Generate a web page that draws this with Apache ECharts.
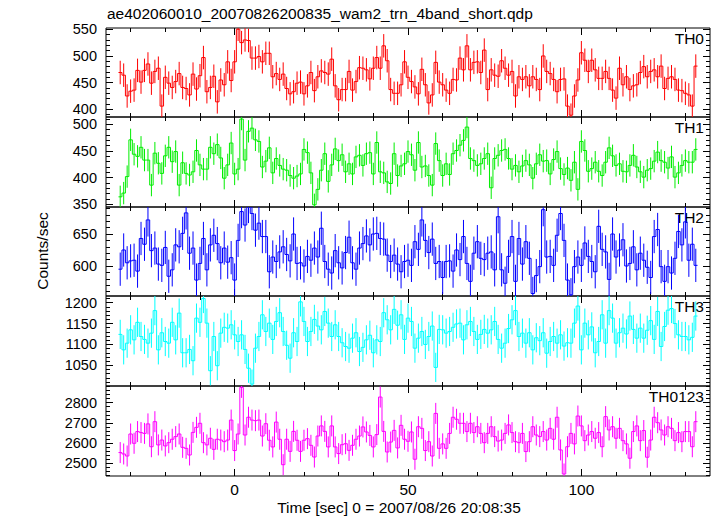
<!DOCTYPE html>
<html><head><meta charset="utf-8">
<script src="https://cdn.jsdelivr.net/npm/echarts@6/dist/echarts.min.js"></script>
<style>html,body{margin:0;padding:0;background:#fff}#c{width:717px;height:516px}</style>
</head><body><div id="c"></div>
<script>
// ---- data ----
const binStart = -33;   // centre of first 1-s bin (sec)
const binWidth = 1;

const th0 = [
469,464,425,434,436,473,451,473,485,449,
471,477,406,460,449,441,452,467,441,439,
427,466,438,463,497,433,441,462,414,455,
446,489,454,489,550,525,530,529,496,496,
499,489,505,505,461,467,456,466,439,429,
433,449,451,429,444,469,435,461,472,469,
466,494,444,418,437,437,471,436,452,
478,477,474,457,477,497,477,519,491,437,
430,430,446,489,460,452,442,429,475,446,
412,427,488,451,446,436,430,456,455,496,
474,519,474,488,489,469,511,437,474,464,
462,491,477,464,471,425,461,456,461,444,
461,456,437,500,471,467,456,433,456,457,
406,389,425,455,506,492,471,492,474,458,
458,471,458,436,421,477,446,461,437,444,
446,469,480,461,471,474,461,481,439,458,
461,456,436,435,430,427,406,481];

const th1 = [
364,371,402,471,444,440,457,433,433,386,
446,427,408,441,457,430,449,386,428,408,
405,411,451,424,416,416,457,445,462,437,
399,424,465,407,416,510,433,487,493,471,
468,
420,431,456,409,436,423,416,414,404,399,
403,407,453,447,409,349,378,414,445,393,
424,454,432,443,411,426,407,439,442,423,
445,447,407,466,411,409,392,389,445,404,
422,426,449,443,414,466,420,422,404,386,
464,432,404,426,406,445,451,461,470,495,
436,432,423,426,436,445,381,436,442,451,
453,436,416,423,411,422,432,424,399,426,
443,431,432,407,434,449,417,406,418,395,
429,378,468,451,412,417,429,412,404,429,
456,441,423,426,412,411,423,442,420,411,
401,414,417,431,448,432,429,418,439,401,
409,423,432,429,429,453];

const th2 = [
595,625,605,608,609,592,643,634,672,624,
628,603,601,629,584,594,633,630,651,683,
620,628,578,604,643,594,633,648,635,605,
628,606,613,578,640,685,664,693,682,656,
667,
646,646,591,614,607,622,630,618,
608,650,604,605,600,615,609,628,
614,659,607,595,589,624,605,597,
621,645,605,595,628,635,647,633,
650,651,643,642,617,607,617,603,
591,607,609,601,638,626,672,640,
621,642,604,607,582,607,608,592,
625,610,646,604,576,620,638,612,
610,620,622,594,677,594,573,615,
646,576,643,603,638,612,557,585,
599,688,614,615,601,648,682,640,
578,555,599,614,601,636,615,607,
591,662,626,622,579,650,614,625,
641,600,604,630,594,620,609,598,
582,646,657,599,576,599,589,612,
654,633,669,609,634,601];

const th3 = [
1124,1087,1103,1135,1111,1153,1119,1112,1103,1127,
1181,1087,1128,1107,1103,1153,1111,1175,1080,1080,
1088,1061,1163,1153,1210,1151,1037,1119,1049,1127,
1141,1139,1147,1123,1107,1123,1088,1043,1005,1091,
1119,
1171,1131,1151,1112,1155,1176,1131,1098,
1067,1128,1107,1202,1155,1107,1131,1160,
1144,1135,1179,1151,1119,1147,1119,1104,
1095,1091,1115,1128,1083,1093,1111,1122,
1080,1111,1107,1176,1159,1135,1184,1146,
1171,1112,1163,1155,1091,1115,1131,1100,
1119,1144,1045,1136,1135,1127,1131,1141,
1149,1151,1111,1147,1155,1131,1112,1124,
1136,1127,1135,1155,1112,1091,1103,1138,
1159,1181,1119,1127,1103,1128,1087,1116,
1109,1128,1079,1107,1119,1103,1123,1096,
1104,1103,1151,1192,1087,1151,1123,1142,
1080,1107,1171,1103,1181,1163,1103,1128,
1139,1125,1168,1136,1115,1139,1115,1134,
1157,1112,1179,1095,1143,1182,1186,1150,
1123,1119,1119,1111,1117,1168];

const th0123 = [
2553,2546,2536,2645,2599,2657,2652,2648,2695,2582,
2706,2591,2615,2586,2602,2619,2632,2645,2579,2574,
2541,2653,2678,2698,2602,2591,2624,2569,2619,2615,
2607,2615,2714,2563,2645,2876,2640,2728,2714,2711,
2714,
2635,2696,2614,2581,2704,2619,2493,2619,2559,2658,
2614,2559,2614,2622,2589,2531,2635,2685,2658,2581,
2685,2581,2548,2592,2597,2564,2589,2619,2635,2680,
2655,2638,2581,2642,2828,2658,2556,2605,2663,2576,
2688,2619,2609,2655,2520,
2681,2673,2563,2607,2536,2747,2574,2596,2574,2648,
2728,2718,2698,2698,2657,2698,2652,2681,2648,2602,
2648,2681,2632,2610,2615,2648,2690,2652,2607,2602,
2648,2558,2607,2681,2640,2632,2657,2615,2673,2619,
2728,2566,2447,2582,2648,2596,2734,2685,2612,2640,
2657,2624,2652,2582,2731,2665,2681,2624,2673,2612,
2596,2525,2657,2685,2612,2662,2530,2615,2728,2701,
2665,2640,2681,2673,2612,2652,2607,2657,2657,2582,
2706];

// 1-sigma errors (counts/sec), roughly constant per band
const errTH0 = 22, errTH1 = 21, errTH2 = 26, errTH3 = 35, errTH0123 = 52;

const panelNames = ['TH0','TH1','TH2','TH3','TH0123'];
const xMajorTicks = [0, 50, 100];
const yMajorTicks = [
  [400,450,500,550],
  [350,400,450,500],
  [600,650],
  [1050,1100,1150,1200],
  [2500,2600,2700,2800]
];
const yMinorStep = [10,10,10,10,20];
const xMinorStep = 10;

const titleText = 'ae402060010_20070826200835_wam2_trn_4band_short.qdp';
const xTitle = 'Time [sec] 0 = 2007/08/26 20:08:35';
const yTitle = 'Counts/sec';

// ---- layout / style ----
const FONT = "'Liberation Sans', Arial, Helvetica, sans-serif";
const FS = 15.5;
const FSY = 14.5;
const series = [th0, th1, th2, th3, th0123];
const errs = [errTH0, errTH1, errTH2, errTH3, errTH0123];
const colors = ['#ff0000','#00ee00','#0000ff','#00ffff','#ff00ff'];
const yRanges = [[385.6,552.4],[344.9,513.9],[553.1,692.2],[1000.4,1216],[2437,2882.7]];
const tops = [28,117,207,296,386];
const heights = [89,90,89,90,90];
const gridLeft = 106, gridWidth = 604;
const xMin = -37.1, xMax = 137.1;
const majorLen = 7, minorLen = 4;

function multiples(step, lo, hi){
  const out = [];
  for (let v = Math.ceil(lo/step)*step; v <= hi; v += step) out.push(v);
  return out;
}
const xMinorTicks = multiples(xMinorStep, xMin, xMax);
const plain = v => String(v);

const grids = [], xAxes = [], yAxes = [], seriesOpt = [], graphics = [];

function renderItem(params, api){
  const t = api.value(0), v = api.value(1), e = api.value(2), pv = api.value(3);
  const cs = params.coordSys;
  const top = cs.y, bot = cs.y + cs.height;
  const cl = y => Math.max(top, Math.min(bot, y));
  const color = api.visual('color');
  const L = api.coord([t - binWidth/2, v]);
  const R = api.coord([t + binWidth/2, v]);
  const C = api.coord([t, v]);
  const lo = api.coord([t, v - e]);
  const hi = api.coord([t, v + e]);
  const P = api.coord([t - binWidth/2, pv]);
  const st = () => ({stroke: color, lineWidth: 1, fill: null});
  const ch = [];
  if (L[1] >= top && L[1] <= bot)
    ch.push({type:'line', shape:{x1:L[0], y1:L[1], x2:R[0], y2:R[1]}, style: st()});
  const y1 = cl(lo[1]), y2 = cl(hi[1]);
  if (y1 !== y2) ch.push({type:'line', shape:{x1:C[0], y1:y1, x2:C[0], y2:y2}, style: st()});
  if (params.dataIndex > 0) {
    const a = cl(P[1]), b = cl(L[1]);
    if (a !== b) ch.push({type:'line', shape:{x1:L[0], y1:a, x2:L[0], y2:b}, style: st()});
  }
  return {type:'group', children: ch};
}

for (let i = 0; i < 5; i++) {
  grids.push({left: gridLeft, width: gridWidth, top: tops[i], height: heights[i],
    show: true, borderColor: '#000', borderWidth: 1, backgroundColor: 'transparent'});
  const yMin = yRanges[i][0], yMax = yRanges[i][1];
  const yMinor = multiples(yMinorStep[i], yMin, yMax);
  const isBottom = (i === 4);
  const xa = (pos, ticks, len, label) => ({
    type:'value', gridIndex:i, position:pos, min:xMin, max:xMax,
    axisLine:{show:false, onZero:false}, splitLine:{show:false},
    axisTick:{show:true, inside:true, length:len, customValues:ticks, lineStyle:{color:'#000', width:1}},
    axisLabel:{show:label, customValues:xMajorTicks, formatter: plain, color:'#000', fontSize:FS, fontFamily:FONT, margin:5}
  });
  xAxes.push(xa('bottom', xMajorTicks, majorLen, isBottom));
  xAxes.push(xa('bottom', xMinorTicks, minorLen, false));
  xAxes.push(xa('top', xMajorTicks, majorLen, false));
  xAxes.push(xa('top', xMinorTicks, minorLen, false));
  const ya = (pos, ticks, len, label) => ({
    type:'value', gridIndex:i, position:pos, min:yMin, max:yMax,
    axisLine:{show:false, onZero:false}, splitLine:{show:false},
    axisTick:{show:true, inside:true, length:len, customValues:ticks, lineStyle:{color:'#000', width:1}},
    axisLabel:{show:label, customValues:yMajorTicks[i], formatter: plain, color:'#000', fontSize:FSY,
      lineHeight: 12, fontFamily:FONT, margin:9}
  });
  yAxes.push(ya('left', yMajorTicks[i], majorLen, true));
  yAxes.push(ya('left', yMinor, minorLen, false));
  yAxes.push(ya('right', yMajorTicks[i], majorLen, false));
  yAxes.push(ya('right', yMinor, minorLen, false));

  const vals = series[i];
  const data = vals.map((v, k) => [binStart + k*binWidth, v, errs[i], k > 0 ? vals[k-1] : v]);
  seriesOpt.push({
    type:'custom', name: panelNames[i], xAxisIndex: 4*i, yAxisIndex: 4*i,
    itemStyle:{color: colors[i]}, renderItem: renderItem, data: data,
    encode:{x:0, y:1}, silent:true, animation:false
  });
  graphics.push({type:'text', x: 704, y: tops[i] + 10, silent:true,
    style:{text: panelNames[i], fill:'#000', font: FS + 'px ' + FONT, textAlign:'right', textVerticalAlign:'middle'}});
}

graphics.push({type:'text', x: 107, y: 13, silent:true,
  style:{text: titleText, fill:'#000', font: FS + 'px ' + FONT, textAlign:'left', textVerticalAlign:'middle'}});
graphics.push({type:'text', x: 399, y: 507, silent:true,
  style:{text: xTitle, fill:'#000', font: FS + 'px ' + FONT, textAlign:'center', textVerticalAlign:'middle'}});
graphics.push({type:'text', x: 42, y: 251, rotation: Math.PI/2, silent:true,
  style:{text: yTitle, fill:'#000', font: FS + 'px ' + FONT, textAlign:'center', textVerticalAlign:'middle'}});

const chart = echarts.init(document.getElementById('c'), null, {renderer:'svg', width:717, height:516});
chart.setOption({
  animation:false,
  backgroundColor:'#fff',
  grid: grids, xAxis: xAxes, yAxis: yAxes, series: seriesOpt, graphic: graphics
});
</script></body></html>
